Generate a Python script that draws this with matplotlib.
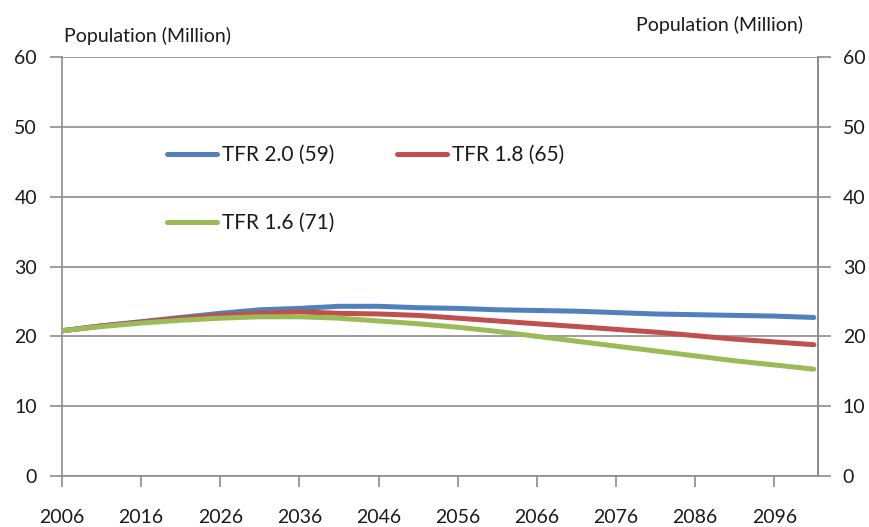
import matplotlib
matplotlib.use("Agg")
import matplotlib.pyplot as plt

plt.rcParams['font.family'] = ['Lato', 'DejaVu Sans']

# population projections (million), read every 5 years
years = [2006, 2011, 2016, 2021, 2026, 2031, 2036, 2041, 2046, 2051,
         2056, 2061, 2066, 2071, 2076, 2081, 2086, 2091, 2096, 2101]
tfr_20 = [20.8, 21.5, 22.1, 22.7, 23.3, 23.8, 24.0, 24.3, 24.3, 24.1,
          24.0, 23.8, 23.7, 23.6, 23.4, 23.2, 23.1, 23.0, 22.9, 22.7]
tfr_18 = [20.8, 21.5, 22.0, 22.6, 23.0, 23.3, 23.5, 23.3, 23.2, 23.0,
          22.6, 22.2, 21.8, 21.4, 21.0, 20.6, 20.1, 19.6, 19.2, 18.8]
tfr_16 = [20.8, 21.4, 21.9, 22.3, 22.6, 22.8, 22.8, 22.6, 22.2, 21.8,
          21.3, 20.7, 20.0, 19.3, 18.6, 17.9, 17.2, 16.5, 15.9, 15.3]

labels = ['TFR 2.0 (59)', 'TFR 1.8 (65)', 'TFR 1.6 (71)']
colors = ['#4F81BD', '#C0504D', '#9BBB59']
xticks = list(range(2006, 2100, 10))
yticks = [0, 10, 20, 30, 40, 50, 60]

fig = plt.figure(figsize=(8.7, 5.27), dpi=100)
ax = fig.add_axes([0.0713, 0.0968, 0.8687, 0.795])

lines = []
for vals, lab, col in zip([tfr_20, tfr_18, tfr_16], labels, colors):
    ln, = ax.plot(years, vals, color=col, lw=3.6, label=lab,
                  solid_capstyle='round', zorder=3)
    lines.append(ln)

grid_col = '#8c8c8c'
text_col = '#1a1a1a'
ax.set_xlim(2006, 2101.5)
ax.set_ylim(0, 60)
ax.set_yticks(yticks)
ax.set_xticks(xticks)
ax.yaxis.grid(True, color=grid_col, lw=1.2)
ax.set_axisbelow(True)
ax.spines['top'].set_visible(False)
for s in ['left', 'bottom', 'right']:
    ax.spines[s].set_color(grid_col)
    ax.spines[s].set_linewidth(1.2)
ax.tick_params(axis='y', length=9, width=1.2, color=grid_col, pad=9,
               labelsize=14, labelcolor=text_col)
ax.tick_params(axis='x', length=8, width=1.2, color=grid_col, pad=16,
               labelsize=14, labelcolor=text_col)

ax2 = ax.twinx()
ax2.set_ylim(0, 60)
ax2.set_yticks(yticks)
for s in ['top', 'left', 'bottom']:
    ax2.spines[s].set_visible(False)
ax2.spines['right'].set_color(grid_col)
ax2.spines['right'].set_linewidth(1.2)
ax2.tick_params(axis='y', length=9, width=1.2, color=grid_col, pad=9,
                labelsize=14, labelcolor=text_col)

fig.text(0.073, 0.932, 'Population (Million)', fontsize=14, color=text_col,
         ha='left', va='center')
fig.text(0.923, 0.952, 'Population (Million)', fontsize=14, color=text_col,
         ha='right', va='center')

# legend laid out row by row: blue and red on top, green below
leg = ax.legend([lines[0], lines[2], lines[1]],
                [labels[0], labels[2], labels[1]],
                ncol=2, frameon=False, fontsize=15,
                loc='upper left', bbox_to_anchor=(0.128, 0.81),
                handlelength=2.4, handletextpad=0.25,
                columnspacing=3.0, labelspacing=2.3, borderaxespad=0)
for t in leg.get_texts():
    t.set_color(text_col)

fig.savefig('out.png', dpi=100)
